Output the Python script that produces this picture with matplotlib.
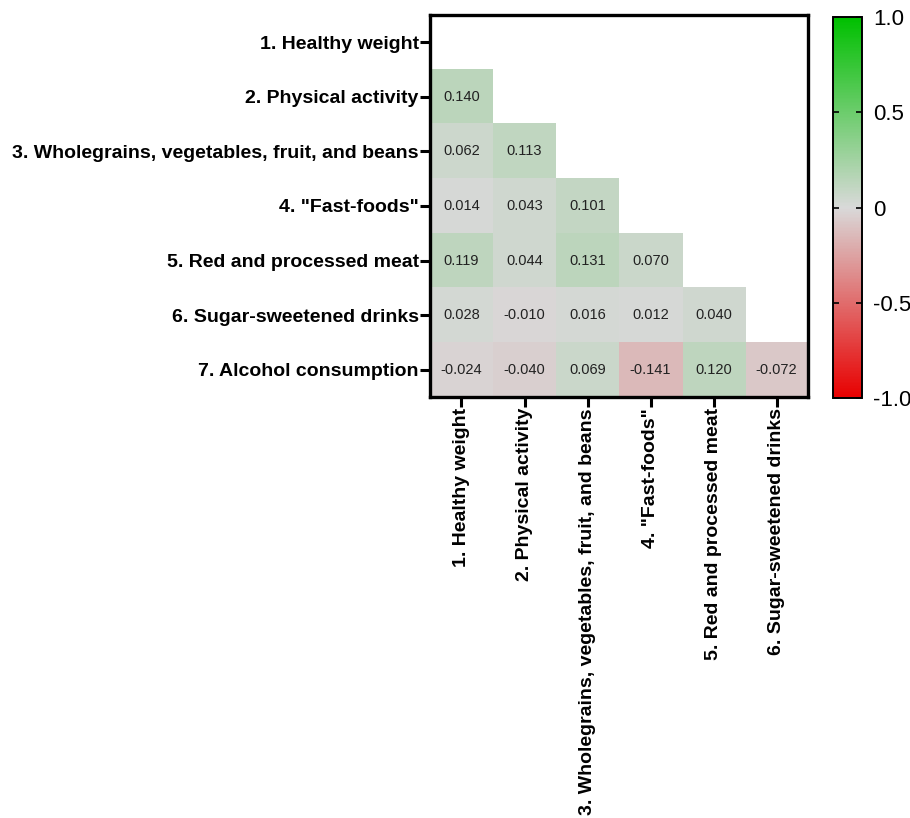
import numpy as np
import matplotlib.pyplot as plt
from matplotlib.colors import LinearSegmentedColormap

plt.rcParams["font.family"] = ["Liberation Sans", "DejaVu Sans"]

row_labels = ["1. Healthy weight", "2. Physical activity",
              "3. Wholegrains, vegetables, fruit, and beans", '4. "Fast-foods"',
              "5. Red and processed meat", "6. Sugar-sweetened drinks",
              "7. Alcohol consumption"]
col_labels = row_labels[:6]

# lower triangle of the correlation matrix, NaN = not shown
nan = np.nan
corr = np.array([
    [nan, nan, nan, nan, nan, nan],
    [0.140, nan, nan, nan, nan, nan],
    [0.062, 0.113, nan, nan, nan, nan],
    [0.014, 0.043, 0.101, nan, nan, nan],
    [0.119, 0.044, 0.131, 0.070, nan, nan],
    [0.028, -0.010, 0.016, 0.012, 0.040, nan],
    [-0.024, -0.040, 0.069, -0.141, 0.120, -0.072],
])

cmap = LinearSegmentedColormap.from_list("rg", ["#e80000", "#d9d9d9", "#00c000"])

fig = plt.figure(figsize=(9.1, 8.18), dpi=100)
ax = fig.add_axes([0.4725, 0.5147, 0.4155, 0.467])
cax = fig.add_axes([0.9154, 0.5134, 0.0319, 0.4656])

masked = np.ma.masked_invalid(corr)
im = ax.imshow(masked, cmap=cmap, vmin=-1, vmax=1, aspect="auto",
               interpolation="nearest")

for i in range(corr.shape[0]):
    for j in range(corr.shape[1]):
        if not np.isnan(corr[i, j]):
            ax.text(j, i, f"{corr[i, j]:.3f}", ha="center", va="center",
                    fontsize=10.5, color="#222222")

ax.set_xticks(range(len(col_labels)))
ax.set_xticklabels(col_labels, rotation=90, fontsize=14, fontweight="bold")
ax.set_yticks(range(len(row_labels)))
ax.set_yticklabels(row_labels, fontsize=14, fontweight="bold")
ax.tick_params(length=7, width=2.2, pad=1)
for s in ax.spines.values():
    s.set_linewidth(2.4)

cb = fig.colorbar(im, cax=cax, ticks=[-1, -0.5, 0, 0.5, 1])
cb.ax.set_yticklabels(["-1.0", "-0.5", "0", "0.5", "1.0"])
cb.ax.tick_params(labelsize=16, direction="in", length=4, width=1.2,
                  left=True, right=True, pad=8)
cb.outline.set_linewidth(1.4)

plt.savefig("out.png", dpi=100)
